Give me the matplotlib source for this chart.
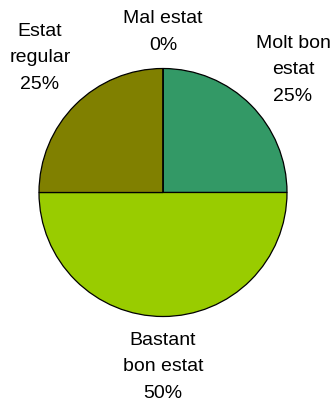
import matplotlib.pyplot as plt

plt.rcParams['font.family'] = ['Liberation Sans', 'DejaVu Sans']

# categories, clockwise from 12 o'clock
labels = ['Molt bon\nestat', 'Bastant\nbon estat', 'Estat\nregular', 'Mal estat']
values = [25, 50, 25, 0]
colors = ['#339966', '#99CC00', '#808000', '#FF0000']

# label anchor points (pixels, y up)
label_xy = [(293, 336), (163, 39), (40, 348), (163, 374)]

fig = plt.figure(figsize=(3.32, 4.06), dpi=100)
ax = fig.add_axes([0, 0, 1, 1])

ax.pie(values, colors=colors, startangle=90, counterclock=False,
       center=(163, 212.5), radius=124,
       wedgeprops=dict(edgecolor='black', linewidth=0.9))

# pie() resets the limits, so set the pixel frame afterwards
ax.set_xlim(0, 332)
ax.set_ylim(0, 406)
ax.set_aspect('equal')
ax.axis('off')

total = sum(values)
for lab, v, (x, y) in zip(labels, values, label_xy):
    ax.text(x, y, f'{lab}\n{v / total * 100:.0f}%', ha='center', va='center',
            fontsize=14, linespacing=1.75, color='black')

fig.savefig('out.png', dpi=100)
